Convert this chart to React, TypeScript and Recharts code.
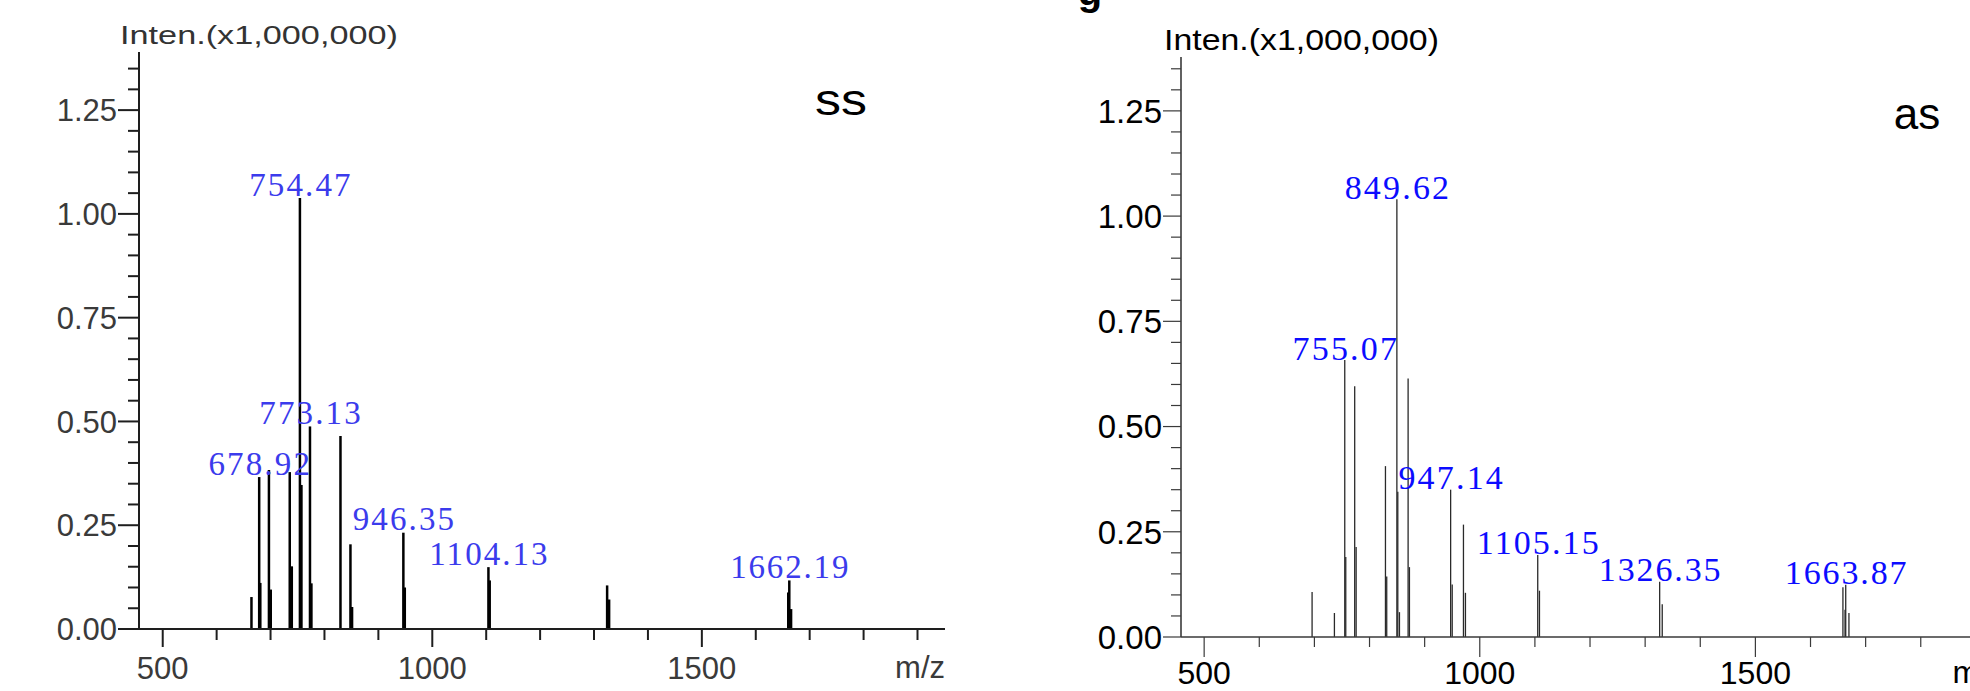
import React from 'react'
import { ComposedChart, XAxis, YAxis, ReferenceLine, Scatter } from 'recharts'

// ss spectrum: every stick (m/z, intensity x1,000,000)
const ssMz = [664.6, 678.92, 681.0, 697.0, 700.4, 735.6, 739.4, 754.47, 757.3, 773.13, 775.8, 829.7, 848.2, 851.2, 946.35, 949.0, 1104.13, 1106.5, 1324.3, 1328.0, 1660.2, 1662.19, 1665.5]
const ssIntensity = [0.077, 0.366, 0.111, 0.383, 0.095, 0.378, 0.151, 1.038, 0.347, 0.488, 0.11, 0.465, 0.204, 0.053, 0.232, 0.1, 0.149, 0.117, 0.105, 0.071, 0.088, 0.117, 0.048]
// ss annotated peaks
const ssLabelMz = [678.92, 754.47, 773.13, 946.35, 1104.13, 1662.19]
const ssLabelIntensity = [0.366, 1.038, 0.488, 0.232, 0.149, 0.117]

// as spectrum
const asMz = [695.8, 736.3, 755.07, 756.9, 773.1, 775.7, 828.9, 831.2, 849.62, 851.3, 854.3, 870.0, 872.4, 947.14, 950.0, 970.4, 974.0, 1105.15, 1108.3, 1326.35, 1331.0, 1658.8, 1662.6, 1663.87, 1669.7]
const asIntensity = [0.107, 0.057, 0.658, 0.19, 0.596, 0.214, 0.406, 0.144, 1.04, 0.345, 0.059, 0.614, 0.166, 0.35, 0.125, 0.267, 0.105, 0.195, 0.11, 0.131, 0.078, 0.118, 0.065, 0.124, 0.057]
const asLabelMz = [755.07, 849.62, 947.14, 1105.15, 1326.35, 1663.87]
const asLabelIntensity = [0.658, 1.04, 0.35, 0.195, 0.131, 0.124]

const xTicks = [500, 600, 700, 800, 900, 1000, 1100, 1200, 1300, 1400, 1500, 1600, 1700, 1800, 1900]
const xMajorTicks = [500, 1000, 1500]
const yTicks = [0, 0.05, 0.1, 0.15, 0.2, 0.25, 0.3, 0.35, 0.4, 0.45, 0.5, 0.55, 0.6, 0.65, 0.7, 0.75, 0.8, 0.85, 0.9, 0.95, 1, 1.05, 1.1, 1.15, 1.2, 1.25, 1.3, 1.35]
const yMajorTicks = [0, 0.25, 0.5, 0.75, 1, 1.25]

const isMajor = (list: number[], v: number) => list.some((m) => Math.abs(m - v) < 1e-6)

const ssStyle = {
  width: 990,
  height: 691,
  margin: { top: 52, right: 45, bottom: 0, left: 0 },
  yAxisWidth: 139,
  xAxisHeight: 62,
  xDomain: [456, 1951],
  yDomain: [0, 1.39],
  axisColor: '#1e1e1e',
  axisWidth: 2,
  frameColor: '#2a2a2a',
  frameWidth: 2,
  tickWidth: 2,
  stickColor: '#000',
  stickWidth: 2.5,
  fontSize: 31,
  xFontSize: 31,
  textColor: '#3a3a3a',
  xMajorLen: 18,
  xMinorLen: 11,
  yMajorLen: 21,
  yMinorLen: 11,
  xLabelOffset: 38.5,
  labelColor: '#3b3bec',
  labelFont: 33,
  labelCharW: 16.9,
  labelGap: 2.5,
}

const asStyle = {
  ...ssStyle,
  width: 1100,
  margin: { top: 57, right: 86, bottom: 0, left: 0 },
  yAxisWidth: 191,
  xAxisHeight: 54,
  xDomain: [458, 1951],
  yDomain: [0, 1.378],
  axisColor: '#3a3a3a',
  axisWidth: 1.6,
  frameColor: '#555',
  frameWidth: 1.2,
  tickWidth: 1.2,
  stickColor: '#2a2a2a',
  stickWidth: 1.3,
  fontSize: 33,
  xFontSize: 32,
  textColor: '#000',
  xMajorLen: 20,
  xMinorLen: 10,
  yMajorLen: 18,
  yMinorLen: 10,
  xLabelOffset: 35.5,
  labelColor: '#0c0cff',
  labelFont: 34,
  labelCharW: 17.4,
  labelGap: 0.5,
}

const XTick = (props: any) => {
  const { x, y, payload, s } = props
  const major = isMajor(xMajorTicks, payload.value)
  return (
    <g>
      <line x1={x} y1={y} x2={x} y2={y + (major ? s.xMajorLen : s.xMinorLen)} stroke={s.axisColor} strokeWidth={s.tickWidth} />
      {major && (
        <text x={x} y={y + s.xLabelOffset + s.xFontSize * 0.358} textAnchor="middle" fontFamily="'Liberation Sans', Arial, sans-serif" fontSize={s.xFontSize} fill={s.textColor}>
          {payload.value}
        </text>
      )}
    </g>
  )
}

const YTick = (props: any) => {
  const { x, y, payload, s } = props
  const major = isMajor(yMajorTicks, payload.value)
  return (
    <g>
      <line x1={x - (major ? s.yMajorLen : s.yMinorLen)} y1={y} x2={x} y2={y} stroke={s.axisColor} strokeWidth={s.tickWidth} />
      {major && (
        <text x={x - s.yMajorLen - 1} y={y + s.fontSize * 0.358} textAnchor="end" fontFamily="'Liberation Sans', Arial, sans-serif" fontSize={s.fontSize} fill={s.textColor}>
          {payload.value.toFixed(2)}
        </text>
      )}
    </g>
  )
}

const Spectrum = ({ mz, intensity, labelMz, labelIntensity, s }: any) => {
  const labels = labelMz.map((m: number, i: number) => ({ mz: m, intensity: labelIntensity[i], text: m.toFixed(2) }))
  return (
    <ComposedChart width={s.width} height={s.height} margin={s.margin}>
      <XAxis
        xAxisId="bottom"
        type="number"
        dataKey="mz"
        domain={s.xDomain}
        allowDataOverflow
        ticks={xTicks}
        interval={0}
        tickSize={0}
        tickMargin={0}
        tickLine={false}
        height={s.xAxisHeight}
        axisLine={{ stroke: s.axisColor, strokeWidth: s.axisWidth }}
        tick={(p: any) => <XTick {...p} s={s} />}
      />
      <XAxis
        xAxisId="top"
        orientation="top"
        type="number"
        domain={s.xDomain}
        allowDataOverflow
        height={0}
        tick={false}
        tickLine={false}
        axisLine={{ stroke: s.frameColor, strokeWidth: s.frameWidth }}
      />
      <YAxis
        yAxisId="left"
        type="number"
        dataKey="intensity"
        domain={s.yDomain}
        allowDataOverflow
        ticks={yTicks}
        interval={0}
        tickSize={0}
        tickMargin={0}
        tickLine={false}
        width={s.yAxisWidth}
        axisLine={{ stroke: s.axisColor, strokeWidth: s.axisWidth }}
        tick={(p: any) => <YTick {...p} s={s} />}
      />
      <YAxis
        yAxisId="right"
        orientation="right"
        type="number"
        domain={s.yDomain}
        allowDataOverflow
        width={0}
        tick={false}
        tickLine={false}
        axisLine={{ stroke: s.frameColor, strokeWidth: s.frameWidth }}
      />
      {mz.map((m: number, i: number) => (
        <ReferenceLine
          key={`stick-${i}`}
          xAxisId="bottom"
          yAxisId="left"
          segment={[{ x: m, y: 0 }, { x: m, y: intensity[i] }]}
          stroke={s.stickColor}
          strokeWidth={s.stickWidth}
        />
      ))}
      <Scatter
        xAxisId="bottom"
        yAxisId="left"
        data={labels}
        dataKey="intensity"
        isAnimationActive={false}
        shape={(p: any) => (
          <text
            x={p.cx}
            y={p.cy - s.labelGap}
            textAnchor="middle"
            fontFamily="'Liberation Serif', 'Times New Roman', serif"
            fontSize={s.labelFont}
            fill={s.labelColor}
            textLength={p.payload.text.length * s.labelCharW}
          >
            {p.payload.text}
          </text>
        )}
      />
    </ComposedChart>
  )
}

const sans = "'Liberation Sans', Arial, sans-serif"

export default function App() {
  return (
    <div style={{ position: 'fixed', left: 0, top: 0, width: 1970, height: 691, overflow: 'hidden', background: '#fff' }}>
      <div style={{ position: 'absolute', left: 0, top: 0 }}>
        <Spectrum mz={ssMz} intensity={ssIntensity} labelMz={ssLabelMz} labelIntensity={ssLabelIntensity} s={ssStyle} />
      </div>
      <div style={{ position: 'absolute', left: 990, top: 0 }}>
        <Spectrum mz={asMz} intensity={asIntensity} labelMz={asLabelMz} labelIntensity={asLabelIntensity} s={asStyle} />
      </div>
      <svg width={1970} height={691} style={{ position: 'absolute', left: 0, top: 0, pointerEvents: 'none' }}>
        <text x={1090} y={5} textAnchor="middle" fontFamily={sans} fontWeight="bold" fontSize={40} fill="#000">g</text>
        <text x={120} y={44} fontFamily={sans} fontSize={26} fill="#333" textLength={278} lengthAdjust="spacingAndGlyphs">Inten.(x1,000,000)</text>
        <text x={1164} y={50} fontFamily={sans} fontSize={30} fill="#000" textLength={275} lengthAdjust="spacingAndGlyphs">Inten.(x1,000,000)</text>
        <text x={841} y={115} textAnchor="middle" fontFamily={sans} fontSize={44} fill="#000" textLength={52} lengthAdjust="spacingAndGlyphs">ss</text>
        <text x={1917} y={129} textAnchor="middle" fontFamily={sans} fontSize={44} fill="#000">as</text>
        <text x={945} y={667 + 11} textAnchor="end" fontFamily={sans} fontSize={31} fill="#3a3a3a">m/z</text>
        <text x={2004} y={672 + 11} textAnchor="end" fontFamily={sans} fontSize={32} fill="#000">m/z</text>
      </svg>
    </div>
  )
}
